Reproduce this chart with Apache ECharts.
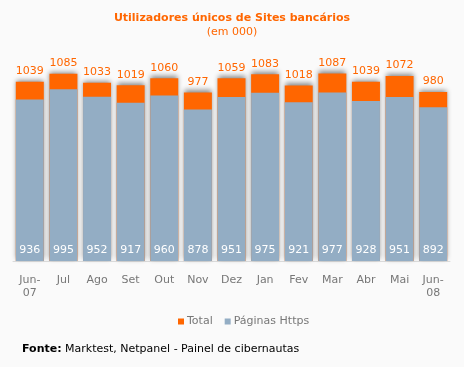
<!DOCTYPE html>
<html><head><meta charset="utf-8">
<script src="https://cdn.jsdelivr.net/npm/echarts@6/dist/echarts.min.js"></script>
<style>html,body{margin:0;padding:0;background:#fafafa}#c{width:464px;height:367px}</style>
</head><body><div id="c"></div>
<script>
const categories = ['Jun-\n07','Jul','Ago','Set','Out','Nov','Dez','Jan','Fev','Mar','Abr','Mai','Jun-\n08'];
const totalValues = [1039,1085,1033,1019,1060,977,1059,1083,1018,1087,1039,1072,980];
const httpsValues = [936,995,952,917,960,878,951,975,921,977,928,951,892];
const FONT = 'DejaVu Sans';
const chart = echarts.init(document.getElementById('c'));
chart.setOption({
  backgroundColor: '#fafafa',
  animation: false,
  title: {
    text: 'Utilizadores únicos de Sites bancários',
    subtext: '(em 000)',
    left: 'center', top: 8, itemGap: 3,
    textStyle: {color: '#ff6600', fontFamily: FONT, fontSize: 11, fontWeight: 'bold'},
    subtextStyle: {color: '#ff6600', fontFamily: FONT, fontSize: 11}
  },
  legend: {
    data: ['Total','Páginas Https'], top: 311, left: 173,
    itemWidth: 6, itemHeight: 6, itemGap: 12, icon: 'rect',
    textStyle: {color: '#777', fontFamily: FONT, fontSize: 11, padding: [0,0,0,-2]}
  },
  grid: {left: 13, right: 14, top: 54, bottom: 106},
  xAxis: {
    type: 'category', data: categories,
    axisLine: {lineStyle: {color: '#ddd'}},
    axisTick: {lineStyle: {color: '#ddd'}, length: 4},
    axisLabel: {color: '#777', fontFamily: FONT, fontSize: 11, margin: 13, lineHeight: 13}
  },
  yAxis: {type: 'value', min: 0, max: 1200, show: false, splitLine: {show: false}},
  series: [
    {
      name: 'Total', type: 'bar', data: totalValues, barWidth: 28, barGap: '-100%',
      itemStyle: {color: '#ff6600', shadowColor: 'rgba(0,0,0,0.45)', shadowBlur: 5, shadowOffsetY: -2},
      label: {show: true, position: 'top', distance: 5, color: '#ff6600', fontFamily: FONT, fontSize: 11}
    },
    {
      name: 'Páginas Https', type: 'bar', data: httpsValues, barWidth: 28, barGap: '-100%',
      itemStyle: {color: '#93adc4'},
      label: {show: true, position: 'insideBottom', distance: 5, color: '#fff', fontFamily: FONT, fontSize: 11}
    }
  ],
  graphic: [{
    type: 'text', left: 22, top: 344,
    style: {
      text: '{b|Fonte:} Marktest, Netpanel - Painel de cibernautas',
      rich: {b: {fontWeight: 'bold', fontFamily: FONT, fontSize: 11, fill: '#000'}},
      fontFamily: FONT, fontSize: 11, fill: '#000'
    }
  }]
});
</script></body></html>
